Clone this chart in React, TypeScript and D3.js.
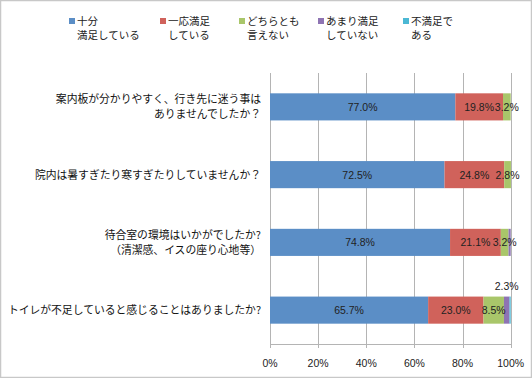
import React from "react";
import * as d3 from "d3";

const categories = [
  ["案内板が分かりやすく、行き先に迷う事は", "ありませんでしたか？"],
  ["院内は暑すぎたり寒すぎたりしていませんか？"],
  ["待合室の環境はいかがでしたか?", "（清潔感、イスの座り心地等）"],
  ["トイレが不足していると感じることはありましたか?"],
];
const seriesNames = [
  ["十分", "満足している"],
  ["一応満足", "している"],
  ["どちらとも", "言えない"],
  ["あまり満足", "していない"],
  ["不満足で", "ある"],
];
const s1 = [77.0, 72.5, 74.8, 65.7];
const s2 = [19.8, 24.8, 21.1, 23.0];
const s3 = [3.2, 2.8, 3.2, 8.5];
const s4 = [0, 0, 0.9, 2.3];
const s5 = [0, 0, 0, 0.5];
const ticks = [0, 20, 40, 60, 80, 100];
const colors = ["#5B8EC6", "#D0625B", "#A9C66A", "#8E74B3", "#4BB8D4"];

const W = 532, H = 378;
const x0 = 270, x1 = 510.7, yTop = 73, yBot = 344;

export default function App() {
  const series = [s1, s2, s3, s4, s5];
  const x = d3.scaleLinear().domain([0, 100]).range([x0, x1]);
  const y = d3.scaleBand().domain(categories.map((_, i) => String(i))).range([yTop, yBot]).paddingInner(0.6).paddingOuter(0.3);
  const stacked = d3.stack<number>().keys([0, 1, 2, 3, 4] as any).value((i: number, k: any) => series[k][i])(d3.range(categories.length));
  const legendX = [69, 160, 239, 318, 403];
  const jp = "'Noto Sans CJK JP', sans-serif";
  const num = "'Liberation Sans', Arial, sans-serif";
  return (
    <div style={{ position: "fixed", left: 0, top: 0 }}>
      <svg width={W} height={H} style={{ display: "block" }}>
        <rect x={0.5} y={0.5} width={W - 1} height={H - 1} fill="#fff" stroke="#c8c8c8" strokeWidth={1.5} />
        {seriesNames.map((n, i) => (
          <g key={i}>
            <rect x={legendX[i]} y={18} width={6} height={6} fill={colors[i]} />
            {n.map((t, j) => (
              <text key={j} x={legendX[i] + 8} y={25 + j * 14} fontSize={10.5} fontFamily={jp} fill="#222">{t}</text>
            ))}
          </g>
        ))}
        {ticks.map((t) => (
          <g key={t}>
            <line x1={Math.round(x(t)) + 0.5} x2={Math.round(x(t)) + 0.5} y1={yTop} y2={yBot + 4} stroke="#b4b4b4" />
            <text x={x(t)} y={367} fontSize={10.5} fontFamily={num} textAnchor="middle" fill="#222">{t}%</text>
          </g>
        ))}
        <line x1={x0} x2={x1 + 0.5} y1={yBot + 0.5} y2={yBot + 0.5} stroke="#b4b4b4" />
        {stacked.map((layer, k) => (
          <g key={k}>
            {layer.map((d, i) => {
              const w = x(d[1]) - x(d[0]);
              if (w <= 0) return null;
              return <rect key={i} x={x(d[0])} y={y(String(i))!} width={w} height={y.bandwidth()} fill={colors[k]} />;
            })}
          </g>
        ))}
        {stacked.map((layer, k) => (
          <g key={"l" + k}>
            {layer.map((d, i) => {
              const v = series[k][i];
              if (v < 1) return null;
              const cx = x((d[0] + d[1]) / 2);
              const cy = y(String(i))! + y.bandwidth() / 2;
              const above = k === 3;
              return (
                <text key={i} x={cx} y={above ? y(String(i))! - 7 : cy + 4} fontSize={10.5} fontFamily={num} textAnchor="middle" fill="#222">
                  {v.toFixed(1)}%
                </text>
              );
            })}
          </g>
        ))}
        {categories.map((lines, i) => {
          const cy = y(String(i))! + y.bandwidth() / 2;
          return (
            <g key={i}>
              {lines.map((t, j) => (
                <text key={j} x={261} y={cy + 4 + (j - (lines.length - 1) / 2) * 15} fontSize={10.8} fontFamily={jp} textAnchor="end" fill="#111">{t}</text>
              ))}
            </g>
          );
        })}
      </svg>
    </div>
  );
}
